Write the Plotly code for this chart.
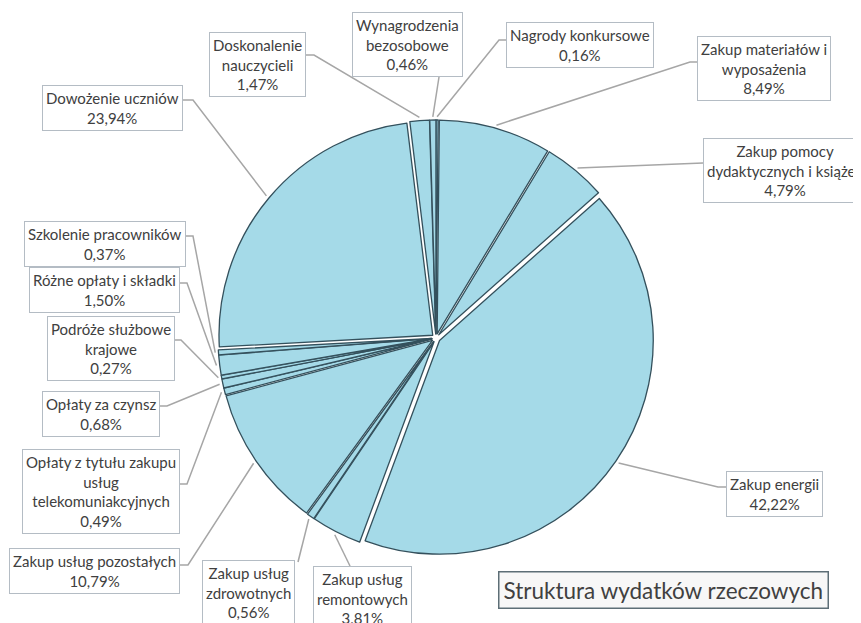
import plotly.graph_objects as go
import math

# ---------------- data ----------------
categories = [
    "Nagrody konkursowe",
    "Zakup materiałów i wyposażenia",
    "Zakup pomocy dydaktycznych i książek",
    "Zakup energii",
    "Zakup usług remontowych",
    "Zakup usług zdrowotnych",
    "Zakup usług pozostałych",
    "Opłaty z tytułu zakupu usług telekomunikacyjnych",
    "Opłaty za czynsz",
    "Podróże służbowe krajowe",
    "Różne opłaty i składki",
    "Szkolenie pracowników",
    "Dowożenie uczniów",
    "Doskonalenie nauczycieli",
    "Wynagrodzenia bezosobowe",
]
values = [0.16, 8.49, 4.79, 42.22, 3.81, 0.56, 10.79, 0.49, 0.68, 0.27, 1.50, 0.37, 23.94, 1.47, 0.46]

# label text as displayed (line breaks as in the original boxes)
display_labels = [
    "Nagrody konkursowe",
    "Zakup materiałów i<br>wyposażenia",
    "Zakup pomocy<br>dydaktycznych i książek",
    "Zakup energii",
    "Zakup usług<br>remontowych",
    "Zakup usług<br>zdrowotnych",
    "Zakup usług pozostałych",
    "Opłaty z tytułu zakupu<br>usług<br>telekomuniakcyjnych",
    "Opłaty za czynsz",
    "Podróże służbowe<br>krajowe",
    "Różne opłaty i składki",
    "Szkolenie pracowników",
    "Dowożenie uczniów",
    "Doskonalenie<br>nauczycieli",
    "Wynagrodzenia<br>bezosobowe",
]
title_text = "Struktura wydatków rzeczowych"

# ---------------- layout (page pixel positions) ----------------
OFF = 8                      # default page margin around the plot div
PAGE_W, PAGE_H = 861, 623
W, H = PAGE_W - OFF, PAGE_H - OFF
CX, CY, R = 436, 338, 218    # pie centre / radius in page pixels
PULL = 0.02

# box placement: (x, y, xanchor, yanchor)
box_pos = [
    (506, 45, "left", "middle"),
    (697, 68, "left", "middle"),
    (703, 170, "left", "middle"),
    (726, 494, "left", "middle"),
    (362, 566, "center", "top"),
    (248, 560, "center", "top"),
    (180, 571, "right", "middle"),
    (180, 491, "right", "middle"),
    (160, 414, "right", "middle"),
    (175, 348, "right", "middle"),
    (180, 290, "right", "middle"),
    (186, 244, "right", "middle"),
    (183, 108, "right", "middle"),
    (306, 64, "right", "middle"),
    (407, 44, "center", "middle"),
]
# leader start points (on box) and optional elbow
leader_start = [
    [(506, 40), (499, 40)],
    [(697, 62), (690, 62)],
    [(703, 163)],
    [(726, 487), (718, 487)],
    [(350, 566)],
    [(298, 562)],
    [(180, 565), (188, 565)],
    [(180, 484), (187, 484)],
    [(160, 406), (167, 406)],
    [(175, 340), (181, 340)],
    [(180, 283), (187, 283)],
    [(186, 236), (193, 236)],
    [(183, 100), (193, 100)],
    [(306, 55), (314, 55)],
    [(439, 77)],
]

total = sum(values)
fig = go.Figure()

# leader lines computed from slice mid-angles
lx, ly = [], []
cum = 0.0
for v, pts in zip(values, leader_start):
    mid = (cum + v / 2) / total * 2 * math.pi
    cum += v
    rr = R * (1 + PULL) * 0.995
    ex = CX + rr * math.sin(mid)
    ey = CY - rr * math.cos(mid)
    for (px, py) in pts:
        lx.append(px)
        ly.append(py)
    lx += [ex, None]
    ly += [ey, None]

fig.add_trace(go.Scatter(
    x=lx, y=ly, mode="lines",
    line=dict(color="#a6a6a6", width=1.5),
    hoverinfo="skip", showlegend=False,
))

fx, fy = CX - OFF, CY - OFF   # centre in figure pixels
fig.add_trace(go.Pie(
    labels=categories, values=values,
    sort=False, direction="clockwise", rotation=0,
    pull=[PULL] * len(values),
    marker=dict(colors=["#a5dae8"] * len(values),
                line=dict(color="#34505c", width=1.3)),
    textinfo="none", hoverinfo="label+percent",
    showlegend=False,
    domain=dict(x=[(fx - R) / W, (fx + R) / W],
                y=[(H - fy - R) / H, (H - fy + R) / H]),
))

annotations = []
for lab, v, (bx, by, xa, ya) in zip(display_labels, values, box_pos):
    pct = f"{v:.2f}".replace(".", ",") + "%"
    annotations.append(dict(
        x=bx, y=by, xref="x", yref="y", xanchor=xa, yanchor=ya,
        text=f"{lab}<br>{pct}", showarrow=False, align="center",
        font=dict(family="Lato", size=15, color="#404040"),
        bgcolor="white", bordercolor="#b4bcc4", borderwidth=1, borderpad=3,
    ))

annotations.append(dict(
    x=663, y=590, xref="x", yref="y", xanchor="center", yanchor="middle",
    text=title_text, showarrow=False,
    font=dict(family="Lato", size=22.5, color="#404040"),
    bgcolor="#f7f7f7", bordercolor="#5d6e76", borderwidth=1.5, borderpad=4,
))

fig.update_layout(
    width=W, height=H,
    margin=dict(l=0, r=0, t=0, b=0),
    paper_bgcolor="white", plot_bgcolor="white",
    xaxis=dict(range=[OFF, OFF + W], visible=False, domain=[0, 1], fixedrange=True),
    yaxis=dict(range=[OFF + H, OFF], visible=False, domain=[0, 1], fixedrange=True),
    annotations=annotations,
    showlegend=False,
)

fig.write_html("out.html")
